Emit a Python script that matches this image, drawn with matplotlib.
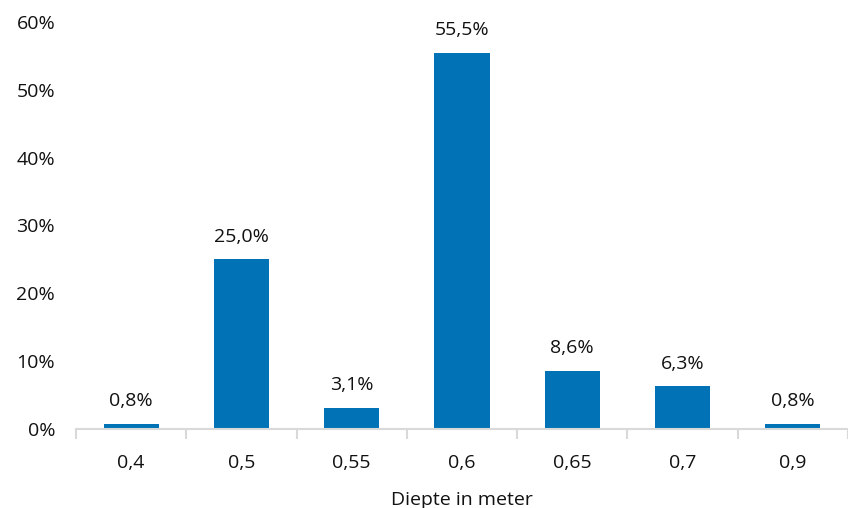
import matplotlib
matplotlib.use("Agg")
import matplotlib.pyplot as plt
from matplotlib.ticker import FuncFormatter

categories = ["0,4", "0,5", "0,55", "0,6", "0,65", "0,7", "0,9"]
values = [0.8, 25.0, 3.1, 55.5, 8.6, 6.3, 0.8]
yticks = [0, 10, 20, 30, 40, 50, 60]

plt.rcParams['font.family'] = ['Open Sans', 'DejaVu Sans']

fig = plt.figure(figsize=(8.48, 5.08), dpi=100)
ax = fig.add_axes([76/848, 79/508, 772/848, 407/508])

fs = 14
tc = "#111111"
x = list(range(len(categories)))
ax.bar(x, values, width=0.5, color="#0072B5", zorder=2)
for xi, v in zip(x, values):
    ax.text(xi, v + 2.0, f"{v:.1f}".replace(".", ",") + "%", ha="center", va="bottom",
            fontsize=fs, color=tc)

ax.set_xlim(-0.5, len(categories) - 0.5)
ax.set_ylim(0, 60)
ax.set_yticks(yticks)
ax.yaxis.set_major_formatter(FuncFormatter(lambda v, p: f"{int(v)}%"))
ax.set_xticks(x)
ax.set_xticklabels(categories)
ax.set_xticks([i - 0.5 for i in range(len(categories) + 1)], minor=True)

for s in ["left", "right", "top"]:
    ax.spines[s].set_visible(False)
ax.spines["bottom"].set_color("#d9d9d9")
ax.spines["bottom"].set_linewidth(1.5)

ax.tick_params(axis="y", length=0, labelsize=fs, labelcolor=tc, pad=15)
ax.tick_params(axis="x", which="major", length=0, labelsize=fs, labelcolor=tc, pad=18)
ax.tick_params(axis="x", which="minor", length=7, width=1.5, color="#d9d9d9")

ax.set_xlabel("Diepte in meter", fontsize=fs, color=tc, labelpad=14)

fig.savefig("out.png", dpi=100)
